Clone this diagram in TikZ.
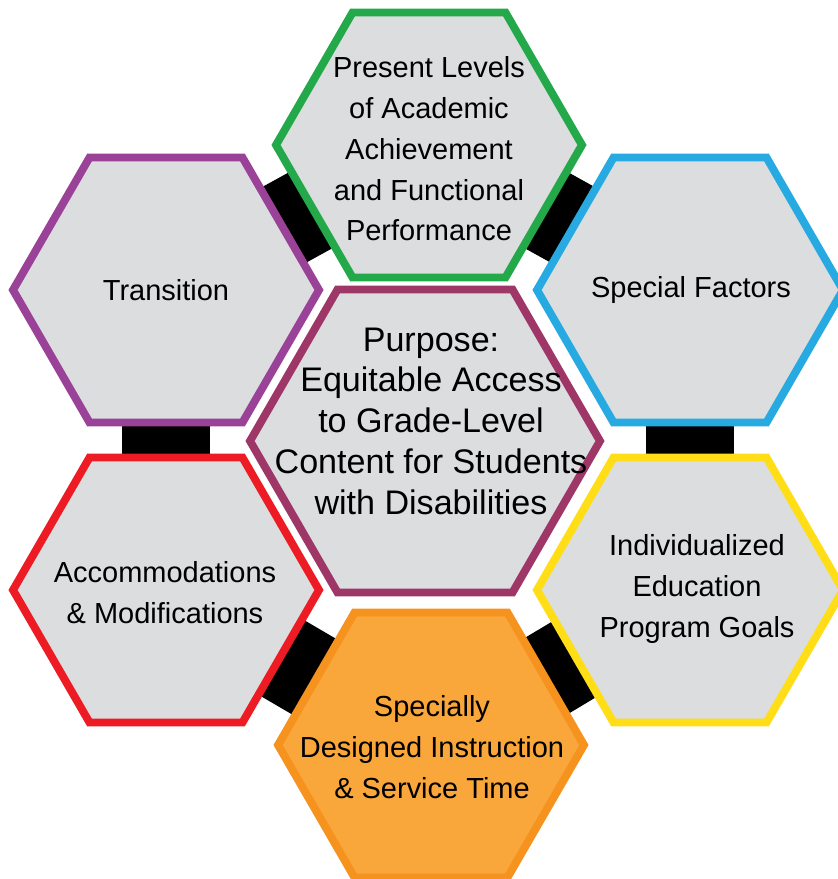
\documentclass[tikz,border=0pt]{standalone}
\usepackage{fontspec}
\setmainfont{Liberation Sans}
\usetikzlibrary{shapes.geometric, positioning, backgrounds}
\definecolor{cellgray}{RGB}{220,221,223}
\definecolor{ringgreen}{RGB}{35,168,74}
\definecolor{ringblue}{RGB}{39,170,225}
\definecolor{ringyellow}{RGB}{255,221,23}
\definecolor{ringorange}{RGB}{246,146,30}
\definecolor{orangefill}{RGB}{249,166,58}
\definecolor{ringred}{RGB}{237,28,36}
\definecolor{ringviolet}{RGB}{154,65,152}
\definecolor{purposeedge}{RGB}{158,55,104}

\begin{document}
\begin{tikzpicture}[x=0.02cm, y=-0.02cm,
        hexcell/.style={regular polygon, regular polygon sides=6, minimum size=6.12cm, inner sep=0pt, fill=cellgray, line width=4.5pt},
        celltext/.style={align=center, font=\fontsize{16.5}{23.2}\selectfont},
        link/.style={black, line width=1.75cm}]
        \useasboundingbox (0,0) rectangle (838,879);

        % cells
        \node[hexcell, draw=ringgreen] at (429,145) (present) {};
        \node[hexcell, draw=ringblue] at (690,290) (special) {};
        \node[hexcell, draw=ringyellow] at (690,590) (goals) {};
        \node[hexcell, draw=ringorange, fill=orangefill] at (431,745) (instruction) {};
        \node[hexcell, draw=ringred] at (166,590) (accommodations) {};
        \node[hexcell, draw=ringviolet] at (166,290) (transition) {};
        \node[hexcell, draw=purposeedge, minimum size=7cm] at (425,441) (purpose) {};

        % texts
        \node[celltext] at (429,149) (presenttext) {Present Levels\\of Academic\\Achievement\\and Functional\\Performance};
        \node[celltext] at (691,290) (specialtext) {Special Factors};
        \node[celltext] at (697,589) (goalstext) {Individualized\\Education\\Program Goals};
        \node[celltext] at (432,747) (instructiontext) {Specially\\Designed Instruction\\\& Service Time};
        \node[celltext] at (165,593) (accommodationstext) {Accommodations\\\& Modifications};
        \node[celltext] at (166,290) (transitiontext) {Transition};
        \node[celltext, font=\fontsize{19.4}{23.2}\selectfont] at (431,421) (purposetext) {Purpose:\\Equitable Access\\to Grade-Level\\Content for Students\\with Disabilities};

        % links between neighbouring cells
        \begin{scope}[on background layer]
            \draw[link] (transition.center) -- (present.center);
            \draw[link] (present.center) -- (special.center);
            \draw[link] (special.center) -- (goals.center);
            \draw[link] (goals.center) -- (instruction.center);
            \draw[link] (instruction.center) -- (accommodations.center);
            \draw[link] (accommodations.center) -- (transition.center);
        \end{scope}
    \end{tikzpicture}
\end{document}
